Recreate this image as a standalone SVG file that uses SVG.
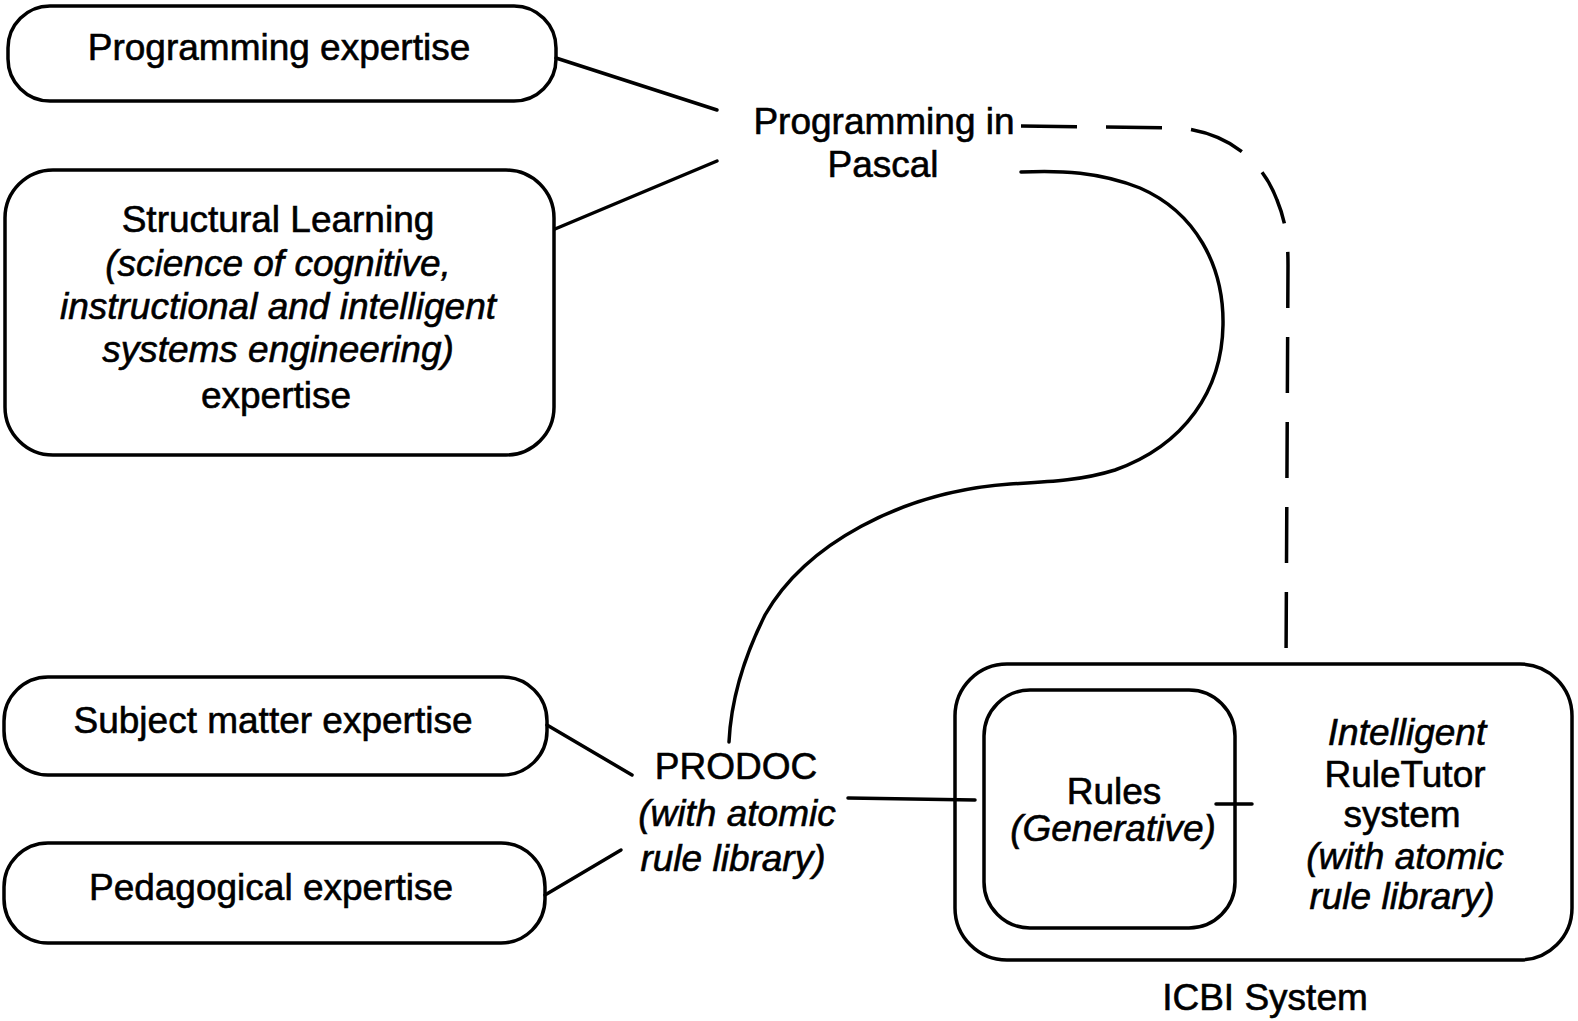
<svg xmlns="http://www.w3.org/2000/svg" width="1578" height="1021" viewBox="0 0 1578 1021">
  <style>
    .box { fill: none; stroke: #000; stroke-width: 3.5; }
    .link { fill: none; stroke: #000; stroke-width: 3.5; stroke-linecap: round; }
    .dash { stroke-dasharray: 56 29; stroke-linecap: butt; }
    text { font-family: "Liberation Sans", Arial, sans-serif; font-size: 37px; fill: #000; stroke: #000; stroke-width: 0.6; text-anchor: middle; }
    .it { font-style: italic; }
  </style>
  <rect width="1578" height="1021" fill="#fff"/>

  <!-- connectors -->
  <g id="connectors">
    <line class="link" x1="556" y1="58" x2="717" y2="110"/>
    <line class="link" x1="555" y1="229" x2="717" y2="161"/>
    <line class="link" x1="547" y1="725" x2="632" y2="775"/>
    <line class="link" x1="545" y1="895" x2="621" y2="850"/>
    <!-- Pascal to PRODOC -->
    <path class="link" d="M1021,172 C1060,170 1100,172 1140,188 C1195,212 1224,265 1223,325 C1222,390 1185,445 1115,470 C1080,481 1045,482 1010,484 C900,492 805,545 765,615 C745,655 731,700 729,742"/>
    <!-- Pascal to ICBI system (dashed) -->
    <path class="link dash" d="M1021,126 L1180,128 C1228,133 1262,160 1277,200 C1286,222 1288,240 1288,265 L1286,666"/>
    <!-- PRODOC to Rules -->
    <line class="link" x1="848" y1="798" x2="975" y2="800"/>
    <!-- Rules to RuleTutor -->
    <line class="link" x1="1216" y1="804" x2="1252" y2="804"/>
  </g>

  <g id="programming-expertise">
    <rect class="box" x="8" y="6" width="548" height="95" rx="42"/>
    <text x="279" y="60">Programming expertise</text>
  </g>

  <g id="structural-learning">
    <rect class="box" x="5" y="170" width="549" height="285" rx="48"/>
    <text x="278" y="232">Structural Learning</text>
    <text class="it" x="278" y="276">(science of cognitive,</text>
    <text class="it" x="278" y="319">instructional and intelligent</text>
    <text class="it" x="278" y="362">systems engineering)</text>
    <text x="276" y="408">expertise</text>
  </g>

  <g id="programming-in-pascal">
    <text x="884" y="134">Programming in</text>
    <text x="883" y="177">Pascal</text>
  </g>

  <g id="subject-matter-expertise">
    <rect class="box" x="4" y="677" width="543" height="98" rx="44"/>
    <text x="273" y="733">Subject matter expertise</text>
  </g>

  <g id="pedagogical-expertise">
    <rect class="box" x="4" y="843" width="541" height="100" rx="44"/>
    <text x="271" y="900">Pedagogical expertise</text>
  </g>

  <g id="prodoc">
    <text x="736" y="779">PRODOC</text>
    <text class="it" x="737" y="826">(with  atomic</text>
    <text class="it" x="733" y="871">rule library)</text>
  </g>

  <g id="icbi-system">
    <rect class="box" x="955" y="664" width="617" height="296" rx="52"/>
    <text x="1265" y="1010">ICBI System</text>
  </g>

  <g id="rules">
    <rect class="box" x="984" y="690" width="251" height="238" rx="46"/>
    <text x="1114" y="804">Rules</text>
    <text class="it" x="1113" y="841">(Generative)</text>
  </g>

  <g id="rule-tutor">
    <text class="it" x="1407" y="745">Intelligent</text>
    <text x="1405" y="787">RuleTutor</text>
    <text x="1402" y="827">system</text>
    <text class="it" x="1405" y="869">(with atomic</text>
    <text class="it" x="1402" y="909">rule library)</text>
  </g>
</svg>
